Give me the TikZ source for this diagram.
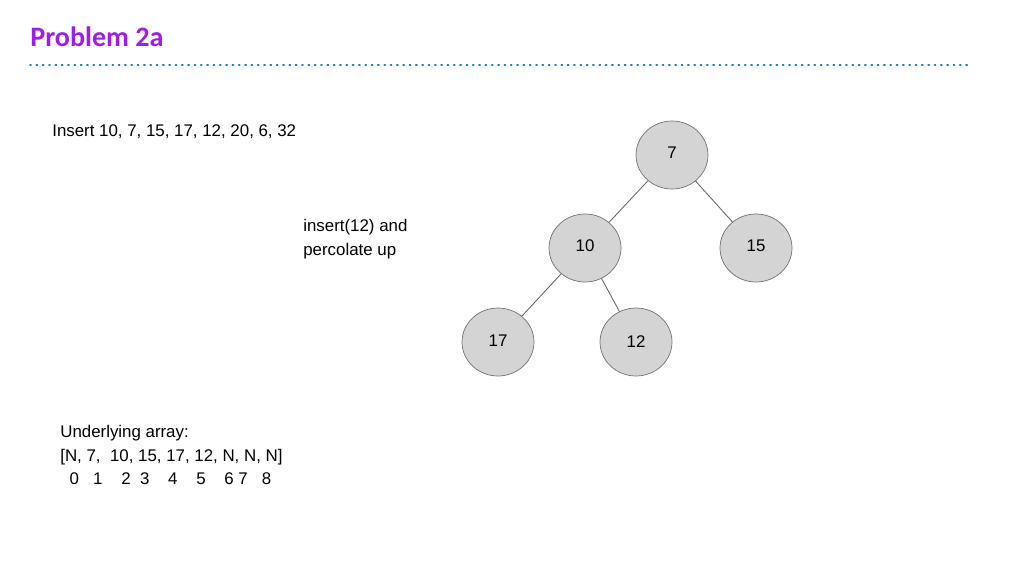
\documentclass[tikz,border=0pt]{standalone}
\usepackage{fontspec}
\setmainfont{Liberation Sans}
\newfontfamily\titlefont{Carlito}
\usetikzlibrary{shapes.geometric}
\definecolor{ttl}{HTML}{9B1FE8}
\definecolor{dotc}{HTML}{2E7DA8}
\definecolor{nodef}{HTML}{D4D4D4}
\begin{document}
\begin{tikzpicture}[x=0.02cm,y=-0.02cm,
  hnode/.style={ellipse,draw=gray!90!black,fill=nodef,minimum width=1.44cm,minimum height=1.36cm,inner sep=0pt,font=\fontsize{9.6}{11}\selectfont},
  edge/.style={draw=gray!80!black,line width=0.5pt},
  txt/.style={anchor=west,font=\fontsize{9.6}{13.5}\selectfont,align=left,inner sep=0pt}]
\useasboundingbox (0,0) rectangle (1024,576);
\node[anchor=west,inner sep=0pt,text=ttl,font=\titlefont\bfseries\fontsize{16}{18}\selectfont] (title) at (30,37) {Problem 2a};
\coordinate (l1) at (30,65); \coordinate (l2) at (970,65);
\draw[dotc,line width=1pt,dash pattern=on 0.6pt off 3pt,line cap=round] (l1) -- (l2);
\node[txt] (ins) at (52,132) {Insert 10, 7, 15, 17, 12, 20, 6, 32};
\node[txt] (perc) at (303,239) {insert(12) and\\percolate up};
\node[txt] (arr) at (60,455) {Underlying array:\\{}[N, 7,\ \ 10, 15, 17, 12, N, N, N]\\\ \ 0\ \ \ 1\ \ \ \ 2\ \ 3\ \ \ \ 4\ \ \ \ 5\ \ \ \ 6\ 7\ \ \ 8};
\node[hnode] (n7) at (672,155) {\raisebox{3pt}{7}};
\node[hnode] (n10) at (585,248) {\raisebox{3pt}{10}};
\node[hnode] (n15) at (756,248) {\raisebox{3pt}{15}};
\node[hnode] (n17) at (498,342) {\raisebox{1pt}{17}};
\node[hnode] (n12) at (636,342) {\raisebox{1pt}{12}};
\draw[edge] (n7) -- (n10);
\draw[edge] (n7) -- (n15);
\draw[edge] (n10) -- (n17);
\draw[edge] (n10) -- (n12);
\end{tikzpicture}
\end{document}
